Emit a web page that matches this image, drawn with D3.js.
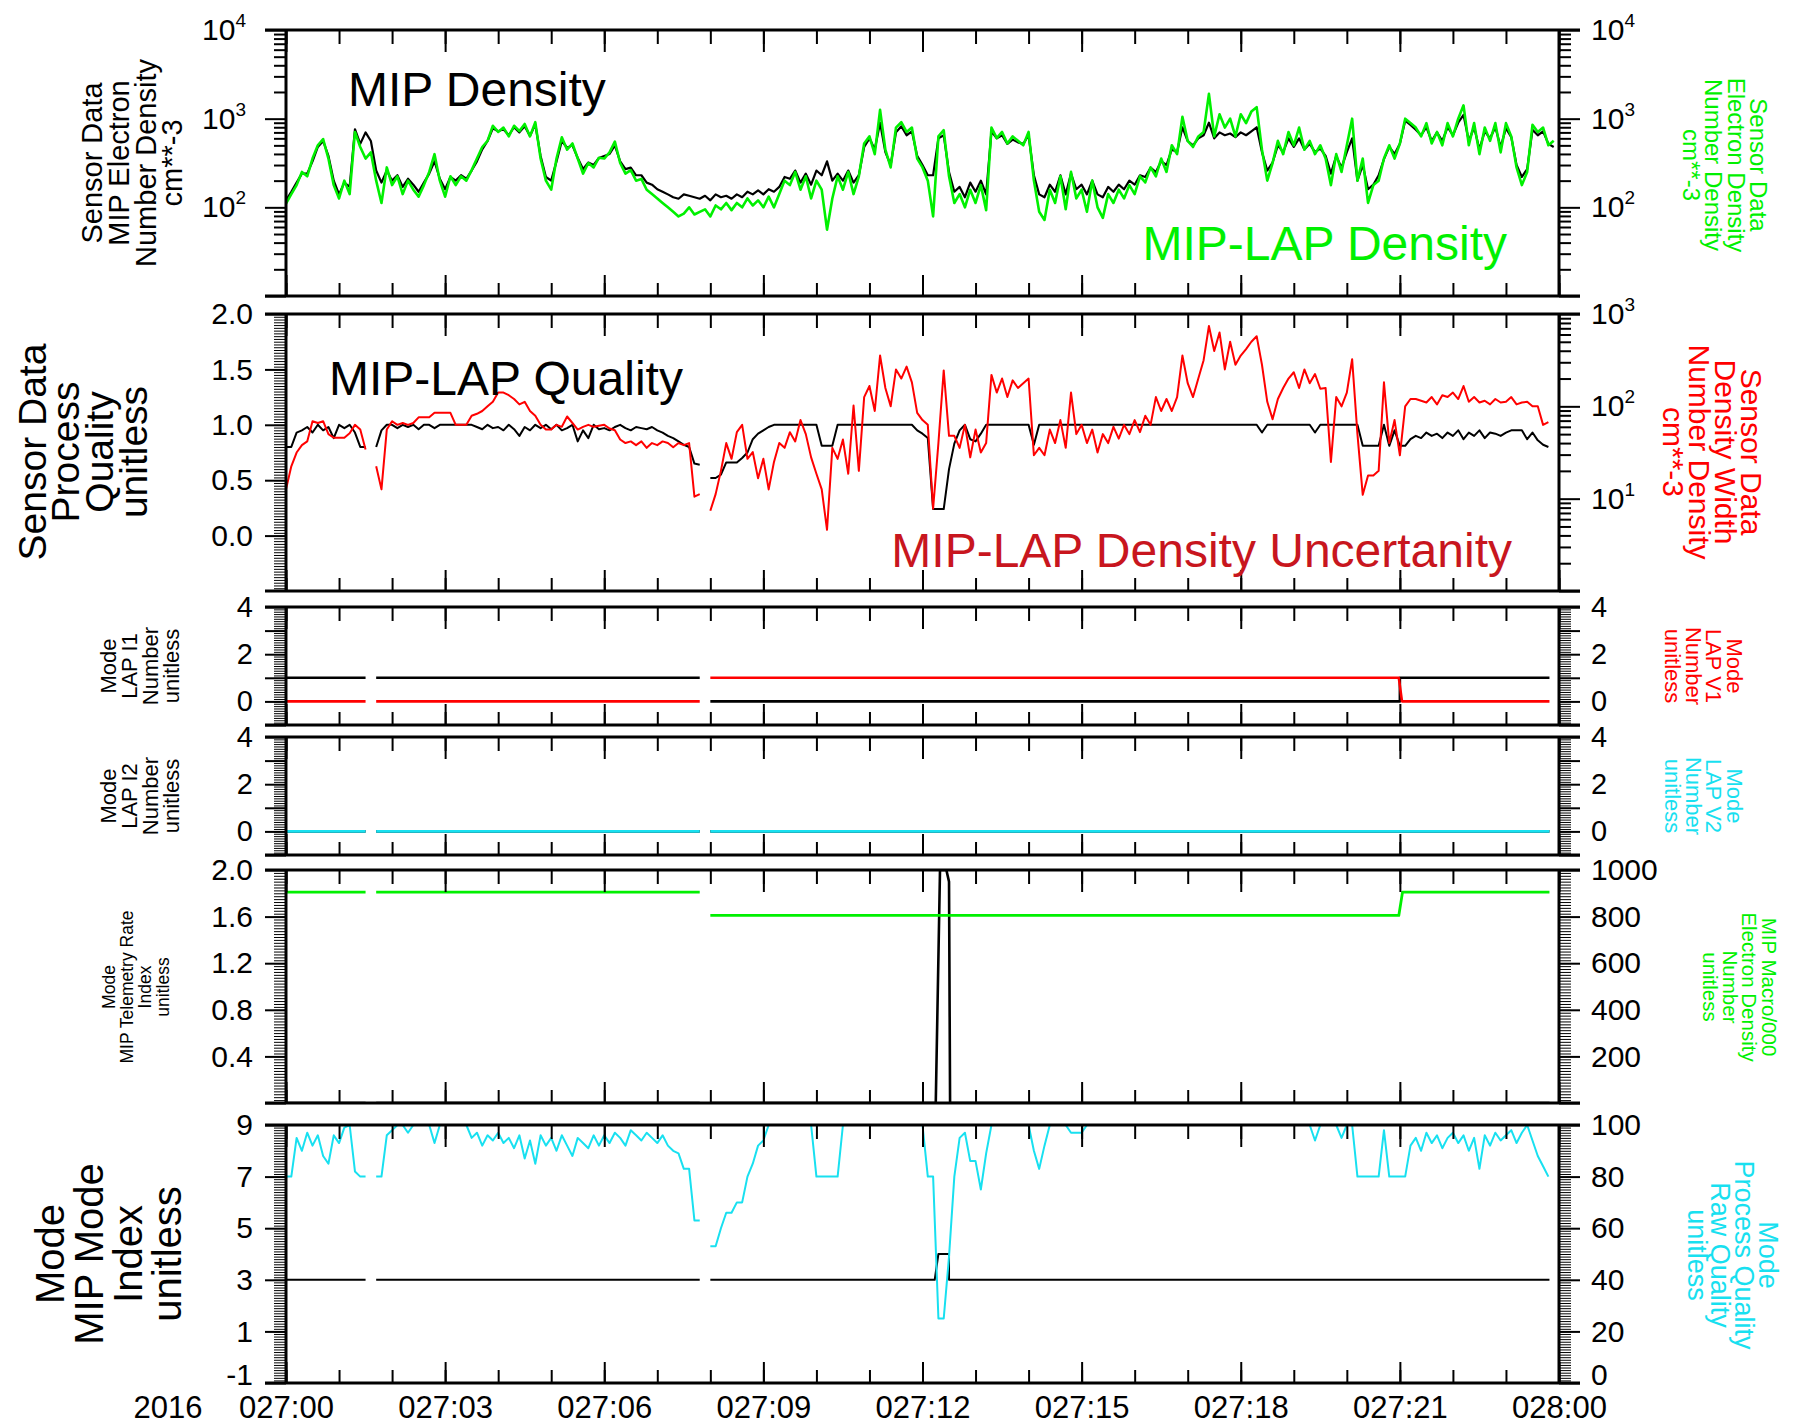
<!DOCTYPE html>
<html>
<head>
<meta charset="utf-8">
<script src="https://cdn.jsdelivr.net/npm/d3@7"></script>
<style>
  html, body { margin: 0; padding: 0; background: #fff; }
  svg { display: block; font-family: "Liberation Sans", Arial, Helvetica, sans-serif; }
</style>
</head>
<body>
<svg id="chart" width="1799" height="1425"></svg>
<script>
// ---------------------------------------------------------------------------
// Data: 2016 day 027, one day of MIP / LAP sensor data.
// Regularly sampled series are given every 0.1 h starting at 027:00.
// ---------------------------------------------------------------------------
const dayStart = Date.UTC(2016, 0, 27);
const dayEnd = Date.UTC(2016, 0, 28);
const stepHours = 0.1;

// MIP electron number density, cm**-3 (black, panel 1)
const mipDensity = [
  120,150,190,240,240,330,480,560,380,200,
  140,190,170,760,520,700,560,260,190,260,
  200,230,170,210,180,150,190,240,330,210,
  160,220,200,230,210,260,330,450,560,780,
  720,760,650,800,700,820,640,860,380,220,
  200,330,560,470,500,360,270,320,300,360,
  380,400,500,330,270,280,230,230,190,180,
  160,150,140,130,125,140,135,130,125,135,
  120,140,130,135,125,140,130,150,140,155,
  140,160,150,170,220,210,260,190,240,180,
  260,230,330,200,240,200,260,190,230,480,
  600,450,900,420,300,700,820,650,720,380,
  300,230,230,600,650,250,150,170,130,190,
  150,200,140,720,600,650,520,580,540,520,
  650,230,140,130,180,150,230,140,240,160,
  180,140,200,140,130,170,150,180,160,200,
  180,230,220,280,250,330,300,450,420,800,
  560,500,600,650,900,600,700,650,680,620,
  700,650,720,800,420,260,320,500,420,600,
  480,600,450,520,420,460,380,240,380,280,
  420,600,200,300,160,180,230,350,480,400,
  520,950,850,750,650,800,560,700,560,800,
  650,900,1100,560,800,450,720,600,800,480,
  780,620,300,220,270,750,650,720,520,480
];

// MIP-LAP electron density, cm**-3 (green, panel 1)
const lapDensity = [
  110,141,178,251,224,355,501,589,355,178,
  126,200,141,708,479,355,417,200,112,282,
  178,224,141,200,158,132,178,251,398,200,
  132,224,178,224,200,263,355,479,562,832,
  708,794,631,832,724,871,631,912,355,200,
  158,355,617,447,525,355,240,316,282,363,
  355,417,550,316,240,263,200,209,158,141,
  126,112,100,89,79,85,100,83,89,95,
  79,105,95,112,93,112,100,126,105,120,
  100,132,100,141,200,178,251,158,224,126,
  200,158,56,126,224,158,251,141,224,525,
  631,398,1259,447,282,794,912,708,794,355,
  282,200,79,631,741,224,112,141,100,158,
  112,178,93,794,603,708,525,631,562,501,
  708,200,89,72,158,112,224,95,251,126,
  158,89,200,100,76,141,112,158,126,178,
  141,224,191,282,224,355,251,501,398,1047,
  562,479,631,708,1905,631,1122,794,1000,631,
  1122,891,1202,1349,447,200,316,562,398,708,
  501,794,447,562,398,501,355,178,398,251,
  501,1000,200,355,112,178,200,355,501,355,
  525,1000,891,794,631,891,525,708,501,891,
  631,1000,1413,501,891,398,794,562,891,417,
  891,631,282,178,251,851,708,794,501,562
];

// MIP-LAP process quality, unitless (black, panel 2); null = no data
const lapQuality = [
  0.80,0.80,0.93,0.95,0.98,0.93,1.00,0.95,0.98,0.88,
  1.00,0.97,1.00,0.93,0.80,0.80,null,0.80,0.95,1.00,
  1.00,0.97,1.00,0.98,1.00,0.96,1.00,1.00,0.97,1.00,
  1.00,1.00,1.00,1.00,1.00,1.00,0.98,0.96,1.00,0.97,
  0.98,0.95,1.00,0.96,0.90,0.98,0.95,1.00,0.97,1.00,
  0.96,1.00,0.95,0.97,1.00,0.85,0.95,0.88,1.00,0.96,
  0.97,0.95,0.98,1.00,0.97,0.95,0.98,0.97,0.96,0.98,
  0.95,0.93,0.90,0.88,0.85,0.82,0.80,0.65,0.64,null,
  0.52,0.52,0.55,0.66,0.66,0.66,0.70,0.75,0.87,0.92,
  0.95,0.98,1.00,1.00,1.00,1.00,1.00,1.00,1.00,1.00,
  1.00,0.81,0.81,0.81,1.00,1.00,1.00,1.00,1.00,1.00,
  1.00,1.00,1.00,1.00,1.00,1.00,1.00,1.00,1.00,0.95,
  0.92,0.88,0.24,0.24,0.24,0.60,0.83,0.95,1.00,0.87,
  0.85,0.92,1.00,1.00,1.00,1.00,1.00,1.00,1.00,1.00,
  1.00,0.82,1.00,1.00,1.00,1.00,1.00,1.00,1.00,1.00,
  1.00,1.00,1.00,1.00,1.00,1.00,1.00,1.00,1.00,1.00,
  1.00,1.00,1.00,1.00,1.00,1.00,1.00,1.00,1.00,1.00,
  1.00,1.00,1.00,1.00,1.00,1.00,1.00,1.00,1.00,1.00,
  1.00,1.00,1.00,1.00,0.93,1.00,1.00,1.00,1.00,1.00,
  1.00,1.00,1.00,1.00,0.93,1.00,1.00,1.00,1.00,1.00,
  1.00,1.00,1.00,0.81,0.81,0.81,0.81,1.00,0.81,0.95,
  0.81,0.81,0.87,0.90,0.88,0.93,0.90,0.92,0.88,0.93,
  0.90,0.95,0.87,0.93,0.90,0.95,0.88,0.93,0.92,0.90,
  0.93,0.95,0.95,0.95,0.87,0.93,0.86,0.82,0.80
];

// MIP-LAP density width (uncertainty), cm**-3 (red, panel 2)
const densityWidth = [
  12.6,22.4,31.6,38,41.7,69,66,69,50,45.7,
  45.7,45.7,51,63,56,34,null,22.4,12.6,56,
  69,63,66,63,66,76,76,76,85,85,
  85,85,63,63,63,79,83,89,100,112,
  141,141,132,120,105,112,89,79,63,56,
  56,63,60,77.6,66,56,60,63,60,61.7,
  63,57.5,55,43.7,40,41.7,38,41.7,35.5,40,
  38,41.7,40,36,40,38,40,10.5,11.2,null,
  7.4,11.2,20,40,27,52.5,63,27,32,16.6,
  27,12.6,25,40,35.5,52.5,41.7,71,50,28,
  18.6,12.6,4.6,35.5,27,43.7,18.6,102,20,126,
  166,89,355,158,100,251,200,269,182,85,
  71,63,7.8,40,245,47.9,47.9,35.5,63,28,
  56,31.6,40,219,141,200,126,191,158,178,
  200,29.5,35.5,29.5,56,40,71,35.5,141,50,
  63,40,56,31.6,50,40,60,44.7,63,50,
  71,52.5,79,63,126,89,120,89,126,355,
  178,126,200,316,741,398,631,251,501,282,
  355,417,501,575,282,112,72.4,120,158,200,
  234,158,251,178,224,155,158,25,126,100,
  141,324,50,11,17.8,17.8,20,182,40,71,
  29.5,100,120,120,115,110,126,105,132,126,
  141,120,166,112,126,110,115,105,120,110,
  112,126,105,110,112,100,100,63,67.6
];

// MIP process raw quality, unitless (cyan, panel 6)
const mipRawQuality = [
  80,80,95,90,97,92,96,88,85,96,
  93,99,100,82,80,80,null,80,80,96,
  98,100,100,97,100,100,100,100,93,100,
  100,100,100,100,100,95,97,92,96,94,
  97,93,95,91,96,87,94,85,96,92,
  95,90,96,92,88,95,93,91,96,92,
  96,93,97,95,92,98,96,94,97,95,
  93,96,92,90,89,83,83,63,63,null,
  53,53,60,66,66,70,70,80,85,92,
  94,100,100,100,100,100,100,100,100,100,
  80,80,80,80,80,100,100,100,100,100,
  100,100,100,100,100,100,100,100,100,100,
  100,80,80,25,25,49,80,95,97,86,
  86,75,89,100,100,100,100,100,100,100,
  100,90,83,92,100,100,100,100,97,97,
  97,100,100,100,100,100,100,100,100,100,
  100,100,100,100,100,100,100,100,100,100,
  100,100,100,100,100,100,100,100,100,100,
  100,100,100,100,100,100,100,100,100,100,
  100,100,100,100,94,100,100,100,100,95,
  100,100,80,80,80,80,80,98,80,80,
  80,80,92,95,90,97,93,96,91,95,
  97,93,96,90,95,83,96,92,97,94,
  96,98,93,97,100,94,88,84,80
];

// Mode quantities: change points (hours after 027:00) and values; null = no data
const lapI1Hours   = [0, 1.5, 1.6, 1.7, 7.8, 7.9, 8.0, 21.0, 21.0, 23.82];
const lapI1Values  = [1, 1, null, 1, 1, null, 0, 0, 1, 1];
const lapV1Hours   = [0, 1.5, 1.6, 1.7, 7.8, 7.9, 8.0, 20.98, 21.04, 23.82];
const lapV1Values  = [0, 0, null, 0, 0, null, 1, 1, 0, 0];
const lapI2Hours   = [0, 1.5, 1.6, 1.7, 7.8, 7.9, 8.0, 23.82];
const lapI2Values  = [0, 0, null, 0, 0, null, 0, 0];
const lapV2Hours   = [0, 1.5, 1.6, 1.7, 7.8, 7.9, 8.0, 23.82];
const lapV2Values  = [0, 0, null, 0, 0, null, 0, 0];
const telemetryHours  = [0, 1.5, 1.6, 1.7, 7.8, 7.9, 8.0, 12.25, 12.33, 12.45, 12.5, 12.52, 23.82];
const telemetryValues = [0, 0, null, 0, 0, null, 0, 0, 2.0, 2.0, 1.9, 0, 0];
const macroHours   = [0, 1.5, 1.6, 1.7, 7.8, 7.9, 8.0, 20.98, 21.05, 23.82];
const macroValues  = [905, 905, null, 905, 905, null, 805, 805, 905, 905];
const mipModeHours  = [0, 1.5, 1.6, 1.7, 7.8, 7.9, 8.0, 12.23, 12.3, 12.5, 12.5, 23.82];
const mipModeValues = [3, 3, null, 3, 3, null, 3, 3, 4, 4, 3, 3];

// Axis tick labels
const p2LeftLabels  = [0, 0.5, 1.0, 1.5, 2.0];
const p3Labels      = [0, 2, 4];
const p5LeftLabels  = [0.4, 0.8, 1.2, 1.6, 2.0];
const p5RightLabels = [200, 400, 600, 800, 1000];
const p6LeftLabels  = [-1, 1, 3, 5, 7, 9];
const p6RightLabels = [0, 20, 40, 60, 80, 100];

// ---------------------------------------------------------------------------
const GREEN = "#00f000", RED = "#ff0000", DARKRED = "#c8161e", CYAN = "#18e0f0";
const svg = d3.select("#chart");
const xLeft = 286, xRight = 1559;
const x = d3.scaleUtc().domain([new Date(dayStart), new Date(dayEnd)]).range([xLeft, xRight]);
const atHour = h => new Date(dayStart + h * 3600e3);
const gridHours = arr => arr.map((_, i) => Math.round(i * stepHours * 100) / 100);

const panels = [
  { top: 30,   bottom: 296 },
  { top: 314,  bottom: 591 },
  { top: 607,  bottom: 725 },
  { top: 737,  bottom: 855 },
  { top: 870,  bottom: 1103 },
  { top: 1125, bottom: 1383 }
];

const yScales = {
  p1: d3.scaleLog().domain([10, 1e4]).range([296, 30]),
  p2L: d3.scaleLinear().domain([-0.5, 2.0]).range([591, 314]),
  p2R: d3.scaleLog().domain([1, 1000]).range([591, 314]),
  p3: d3.scaleLinear().domain([-1, 4]).range([725, 607]),
  p4: d3.scaleLinear().domain([-1, 4]).range([855, 737]),
  p5L: d3.scaleLinear().domain([0, 2]).range([1103, 870]),
  p5R: d3.scaleLinear().domain([0, 1000]).range([1103, 870]),
  p6L: d3.scaleLinear().domain([-1, 9]).range([1383, 1125]),
  p6R: d3.scaleLinear().domain([0, 100]).range([1383, 1125])
};

// clip paths per panel
const defs = svg.append("defs");
panels.forEach((p, i) => {
  defs.append("clipPath").attr("id", "clip" + i)
    .append("rect").attr("x", xLeft).attr("y", p.top - 1)
    .attr("width", xRight - xLeft).attr("height", p.bottom - p.top + 2);
});

function drawSeries(panelIndex, hours, values, yScale, color, width) {
  const pts = hours.map((h, i) => ({ h, v: values[i] }));
  const line = d3.line()
    .defined(d => d.v !== null && d.v !== undefined)
    .x(d => x(atHour(d.h)))
    .y(d => yScale(d.v));
  svg.append("path")
    .attr("clip-path", `url(#clip${panelIndex})`)
    .attr("d", line(pts))
    .attr("fill", "none")
    .attr("stroke", color)
    .attr("stroke-width", width)
    .attr("stroke-linejoin", "round");
}

// ---- data lines ----
drawSeries(0, gridHours(mipDensity), mipDensity, yScales.p1, "#000", 2.2);
drawSeries(0, gridHours(lapDensity), lapDensity, yScales.p1, GREEN, 2.6);

drawSeries(1, gridHours(lapQuality), lapQuality, yScales.p2L, "#000", 2);
drawSeries(1, gridHours(densityWidth), densityWidth, yScales.p2R, RED, 2);

drawSeries(2, lapI1Hours, lapI1Values, yScales.p3, "#000", 2.6);
drawSeries(2, lapV1Hours, lapV1Values, yScales.p3, RED, 2.6);

drawSeries(3, lapI2Hours, lapI2Values, yScales.p4, "#000", 2.6);
drawSeries(3, lapV2Hours, lapV2Values, yScales.p4, CYAN, 2.6);

drawSeries(4, telemetryHours, telemetryValues, yScales.p5L, "#000", 2.6);
drawSeries(4, macroHours, macroValues, yScales.p5R, GREEN, 2.8);

drawSeries(5, mipModeHours, mipModeValues, yScales.p6L, "#000", 2);
drawSeries(5, gridHours(mipRawQuality), mipRawQuality, yScales.p6R, CYAN, 2);

// ---- axes ----
function tidy(sel, width) {
  sel.attr("font-family", null).attr("font-size", null);
  sel.select(".domain").remove();
  sel.selectAll(".tick line").attr("stroke", "#000").attr("stroke-width", width);
}

const hourTicks = d3.utcHour.range(new Date(dayStart), new Date(dayEnd + 1));
const majorHourTicks = d3.utcHour.every(3).range(new Date(dayStart), new Date(dayEnd + 1));

panels.forEach(p => {
  svg.append("g").attr("transform", `translate(0,${p.top})`)
    .call(d3.axisBottom(x).tickValues(hourTicks).tickSize(14).tickFormat(""))
    .call(s => tidy(s, 2));
  svg.append("g").attr("transform", `translate(0,${p.top})`)
    .call(d3.axisBottom(x).tickValues(majorHourTicks).tickSize(22).tickFormat(""))
    .call(s => tidy(s, 2));
  svg.append("g").attr("transform", `translate(0,${p.bottom})`)
    .call(d3.axisTop(x).tickValues(hourTicks).tickSize(13).tickFormat(""))
    .call(s => tidy(s, 2));
  svg.append("g").attr("transform", `translate(0,${p.bottom})`)
    .call(d3.axisTop(x).tickValues(majorHourTicks).tickSize(21).tickFormat(""))
    .call(s => tidy(s, 2));
});

// value axes: minor ticks, major ticks and labels
function valueAxis(scale, side, opts) {
  const axisFn = side === "left" ? d3.axisLeft : d3.axisRight;
  const g = svg.append("g").attr("transform", `translate(${side === "left" ? xLeft : xRight},0)`);
  if (opts.minors) {
    g.append("g").call(axisFn(scale).tickValues(opts.minors).tickSize(12).tickFormat(""))
      .call(s => tidy(s, opts.minorWidth || 1));
  }
  if (opts.majors) {
    g.append("g").call(axisFn(scale).tickValues(opts.majors).tickSize(21).tickFormat(""))
      .call(s => tidy(s, 2));
  }
  if (opts.labels) {
    const lab = g.append("g")
      .call(axisFn(scale).tickValues(opts.labels).tickSize(0)
        .tickPadding(opts.padding || 33).tickFormat(opts.format || (d => String(d))))
      .call(s => tidy(s, 0));
    lab.selectAll("text").attr("font-size", opts.fontSize || 30).attr("fill", "#000");
    // the lowest label of the bottom panel sits a little above its tick,
    // clear of the time labels underneath
    if (opts.liftLowest) {
      lab.selectAll(".tick").filter(d => d === opts.labels[0])
        .select("text").attr("dy", "0.05em");
    }
    if (opts.power) {
      lab.selectAll(".tick text").each(function (d) {
        const t = d3.select(this);
        t.text(null);
        t.append("tspan").text("10");
        t.append("tspan").attr("dy", -13).attr("font-size", 19).text(Math.round(Math.log10(d)));
      });
    }
  }
}

const logMinors = (lo, hi) => {
  const out = [];
  for (let dec = lo; dec < hi; dec *= 10) for (let k = 2; k <= 9; k++) out.push(k * dec);
  return out;
};

// panel 1
["left", "right"].forEach(side => valueAxis(yScales.p1, side, {
  minors: logMinors(10, 1e4), minorWidth: 2, majors: [10, 100, 1000, 1e4],
  labels: [100, 1000, 1e4], power: true, padding: side === "left" ? 40 : 32
}));
// panel 2
valueAxis(yScales.p2L, "left", {
  minors: d3.range(-0.5, 2.0001, 0.025), majors: [0, 0.5, 1.0, 1.5, 2.0],
  labels: p2LeftLabels, format: d3.format(".1f")
});
valueAxis(yScales.p2R, "right", {
  minors: logMinors(1, 1000), minorWidth: 2, majors: [1, 10, 100, 1000],
  labels: [10, 100, 1000], power: true, padding: 32
});
// panels 3 and 4
[yScales.p3, yScales.p4].forEach(sc => {
  ["left", "right"].forEach(side => valueAxis(sc, side, {
    minors: d3.range(-1, 4.0001, 0.1), majors: d3.range(-1, 5, 1),
    labels: p3Labels, padding: side === "left" ? 33 : 32, fontSize: 29
  }));
});
// panel 5
valueAxis(yScales.p5L, "left", {
  minors: d3.range(0, 2.0001, 0.025), majors: d3.range(0, 2.0001, 0.4),
  labels: p5LeftLabels, format: d3.format(".1f")
});
valueAxis(yScales.p5R, "right", {
  minors: d3.range(0, 1000.1, 12.5), majors: d3.range(0, 1000.1, 200),
  labels: p5RightLabels, padding: 32
});
// panel 6
valueAxis(yScales.p6L, "left", {
  minors: d3.range(-1, 9.0001, 0.1), majors: p6LeftLabels, labels: p6LeftLabels, liftLowest: true
});
valueAxis(yScales.p6R, "right", {
  minors: d3.range(0, 100.1, 1), majors: p6RightLabels, labels: p6RightLabels, padding: 32, liftLowest: true
});

// ---- frames ----
panels.forEach(p => {
  const f = svg.append("g").attr("stroke", "#000").attr("stroke-width", 3).attr("fill", "none");
  f.append("line").attr("x1", xLeft - 21).attr("x2", xRight + 21).attr("y1", p.top).attr("y2", p.top);
  f.append("line").attr("x1", xLeft - 21).attr("x2", xRight + 21).attr("y1", p.bottom).attr("y2", p.bottom);
  f.append("line").attr("x1", xLeft).attr("x2", xLeft).attr("y1", p.top).attr("y2", p.bottom);
  f.append("line").attr("x1", xRight).attr("x2", xRight).attr("y1", p.top).attr("y2", p.bottom);
});

// ---- time labels ----
const last = panels[panels.length - 1];
svg.append("g").attr("transform", `translate(0,${last.bottom})`)
  .call(d3.axisBottom(x).tickValues(majorHourTicks).tickSize(0).tickPadding(13)
    .tickFormat(d3.utcFormat("%j:%H")))
  .call(s => tidy(s, 0))
  .selectAll("text").attr("font-size", 31).attr("fill", "#000");
svg.append("text").attr("x", 168).attr("y", 1418).attr("text-anchor", "middle")
  .attr("font-size", 31).text("2016");

// ---- axis titles ----
function titleBlock(lines, cx, cy, size, gap, angle, color) {
  const g = svg.append("g").attr("transform", `translate(${cx},${cy}) rotate(${angle})`);
  lines.forEach((s, i) => {
    g.append("text")
      .attr("x", 0).attr("y", (i - (lines.length - 1) / 2) * gap)
      .attr("dy", "0.36em").attr("text-anchor", "middle")
      .attr("font-size", size).attr("fill", color).text(s);
  });
}
titleBlock(["Sensor Data", "MIP Electron", "Number Density", "cm**-3"], 132, 163, 29, 26.7, -90, "#000");
titleBlock(["Sensor Data", "Process", "Quality", "unitless"], 82, 452, 39, 33.7, -90, "#000");
titleBlock(["Mode", "LAP I1", "Number", "unitless"], 140, 666, 22, 21, -90, "#000");
titleBlock(["Mode", "LAP I2", "Number", "unitless"], 140, 796, 22, 21, -90, "#000");
titleBlock(["Mode", "MIP Telemetry Rate", "Index", "unitless"], 136, 987, 17.5, 18, -90, "#000");
titleBlock(["Mode", "MIP Mode", "Index", "unitless"], 108, 1254, 40, 39, -90, "#000");

titleBlock(["Sensor Data", "Electron Density", "Number Density", "cm**-3"], 1725, 165, 24, 22.3, 90, GREEN);
titleBlock(["Sensor Data", "Density Width", "Number Density", "cm**-3"], 1713, 452, 30, 26, 90, RED);
titleBlock(["Mode", "LAP V1", "Number", "unitless"], 1704, 666, 22, 20.5, 90, RED);
titleBlock(["Mode", "LAP V2", "Number", "unitless"], 1704, 796, 22, 20.5, 90, CYAN);
titleBlock(["MIP Macro/000", "Electron Density", "Number", "unitless"], 1740, 987, 20.5, 19.7, 90, GREEN);
titleBlock(["Mode", "Process Quality", "Raw Quality", "unitless"], 1733, 1255, 27, 23.7, 90, CYAN);

// ---- in-panel captions ----
svg.append("text").attr("x", 348).attr("y", 106).attr("font-size", 48).attr("fill", "#000").text("MIP Density");
svg.append("text").attr("x", 1507).attr("y", 260).attr("text-anchor", "end").attr("font-size", 48)
  .attr("fill", GREEN).text("MIP-LAP Density");
svg.append("text").attr("x", 329).attr("y", 395).attr("font-size", 48).attr("fill", "#000").text("MIP-LAP Quality");
svg.append("text").attr("x", 1512).attr("y", 567).attr("text-anchor", "end").attr("font-size", 48)
  .attr("fill", DARKRED).text("MIP-LAP Density Uncertanity");
</script>
</body>
</html>
